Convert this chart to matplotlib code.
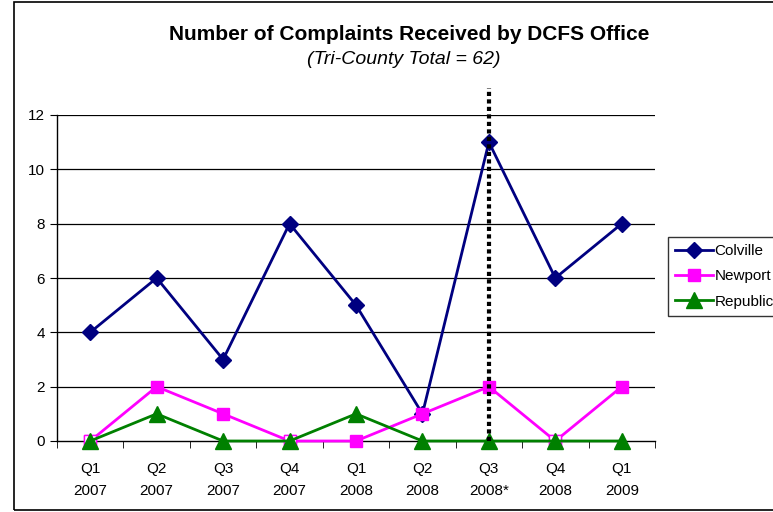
import matplotlib
matplotlib.use("Agg")
import matplotlib.pyplot as plt
from matplotlib.patches import Rectangle
import numpy as np

plt.rcParams['font.family'] = ['Liberation Sans', 'DejaVu Sans']

quarters = ["Q1\n2007", "Q2\n2007", "Q3\n2007", "Q4\n2007", "Q1\n2008",
            "Q2\n2008", "Q3\n2008*", "Q4\n2008", "Q1\n2009"]
colville = [4, 6, 3, 8, 5, 1, 11, 6, 8]
newport = [0, 2, 1, 0, 0, 1, 2, 0, 2]
republic = [0, 1, 0, 0, 1, 0, 0, 0, 0]
marker_idx = 6  # Q3 2008* vertical marker

W, H = 773, 512
fig = plt.figure(figsize=(W/100, H/100), dpi=100)
fig.patches.append(Rectangle((14/W, 1 - 510/H), (W + 10 - 14)/W, (510 - 2)/H,
                             transform=fig.transFigure, fill=False,
                             edgecolor='black', linewidth=1.2))

ax = fig.add_axes([57/W, 1 - 441/H, (655 - 57)/W, (441 - 115)/H])
x = np.arange(len(quarters))

ax.plot(x, colville, color='#000080', marker='D', markersize=8, lw=2, label='Colville',
        zorder=3, clip_on=False)
ax.plot(x, newport, color='#FF00FF', marker='s', markersize=8, lw=2, label='Newport',
        zorder=4, clip_on=False)
nz = [i for i in range(len(x)) if newport[i] == 0 and republic[i] == 0]
ax.plot(x[nz], np.array(newport)[nz], ls='none', marker='s', markersize=8,
        mfc='white', mec='#FF00FF', zorder=4.5, clip_on=False)
ax.plot(x, republic, color='#008000', marker='^', markersize=11, lw=2, label='Republic',
        zorder=5, clip_on=False)

ax.plot([marker_idx, marker_idx], [0, 13], color='black', lw=3, ls=(0, (1, 0.8)),
        clip_on=False, zorder=6)

ax.set_xlim(-0.5, len(x) - 0.5)
ax.set_ylim(0, 12)
ax.set_yticks(range(0, 13, 2))
for yv in range(2, 13, 2):
    ax.axhline(yv, color='black', lw=0.9, zorder=1)
ax.set_xticks(x)
ax.set_xticklabels(quarters, fontsize=11, linespacing=1.75)
ax.set_xticks(np.arange(-0.5, len(x), 1), minor=True)
ax.tick_params(axis='x', which='major', length=0, pad=15)
ax.tick_params(axis='x', which='minor', length=5, direction='out')
ax.tick_params(axis='y', labelsize=11, length=5, direction='out')
for s in ['top', 'right']:
    ax.spines[s].set_visible(False)
ax.spines['left'].set_linewidth(1)
ax.spines['bottom'].set_linewidth(1)

fig.text(409/W, 1 - 35/H, "Number of Complaints Received by DCFS Office",
         ha='center', va='center', fontsize=15, fontweight='bold')
fig.text(404/W, 1 - 60/H, "(Tri-County Total = 62)", ha='center', va='center',
         fontsize=14, style='italic')

leg = fig.legend(loc='upper left', bbox_to_anchor=(668/W, 1 - 237/H), fontsize=11,
                 frameon=True, fancybox=False, edgecolor='black', handlelength=2.5,
                 borderaxespad=0, labelspacing=0.75, handletextpad=0.1, borderpad=0.45)
leg.get_frame().set_linewidth(1)

fig.savefig('out.png', dpi=100)
